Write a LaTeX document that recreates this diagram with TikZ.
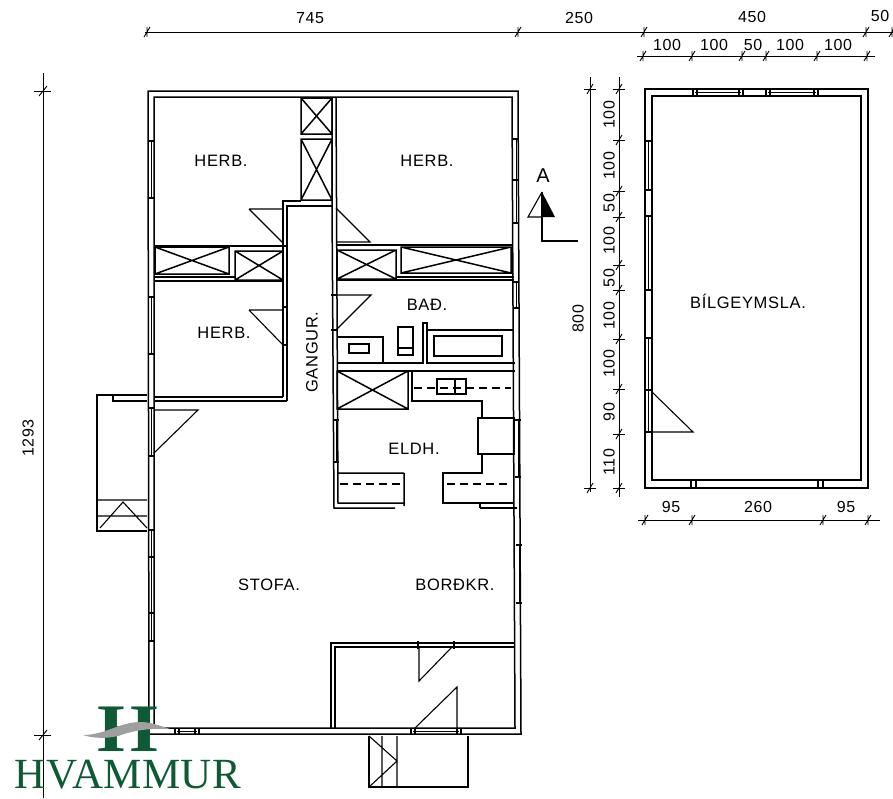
\documentclass[tikz,border=0pt]{standalone}
\usepackage{fontspec}
\setmainfont[LetterSpace=4]{Liberation Sans}
\newfontfamily\logofont[LetterSpace=1]{Liberation Serif}
\definecolor{hvgreen}{HTML}{0F5A35}
\tikzset{
    wall/.style={line width=1.5pt},
    fine/.style={line width=1.1pt},
    dimline/.style={line width=0.9pt},
    roomlabel/.style={font=\fontsize{16.5}{16.5}\selectfont, inner sep=0pt},
    dimlabel/.style={font=\fontsize{16}{16}\selectfont, inner sep=0pt},
    counter/.style={line width=1.2pt, dash pattern=on 8pt off 5pt},
}
\begin{document}
\begin{tikzpicture}[x=1pt,y=-1pt]
    \useasboundingbox (0,0) rectangle (893,798);
    % main house
    \draw[wall] (148,91) -- (518,91) -- (521,734) -- (149,734) -- cycle;
    \draw[wall] (154,97) -- (512,97) -- (515,728) -- (154,728) -- cycle;
    % corridor
    \draw[wall] (283,397) -- (283,201) -- (301,201);
    \draw[wall] (287,401) -- (287,206) -- (332,206);
    \draw[wall] (332,97) -- (332,206) (332,206) -- (334,508) -- (395,508);
    \draw[wall] (336,97) -- (338,503) -- (404,503) (404,473) -- (404,506) (338,473) -- (404,473);
    % walls round the closets
    \draw[wall] (154,246) -- (287,246) (154,277) -- (235,277) (154,281) -- (283,281);
    \draw[wall] (336,245) -- (513,245) (396,277) -- (514,277) (336,280) -- (514,280);
    \draw[wall] (154,397) -- (283,397) (154,401) -- (287,401);
    \foreach \xa/\ya/\xb/\yb in {301/98/332/134, 301/139/332/200, 155/247/229/274, 235/251/283/280, 337/250/396/279, 401/247/511/273, 337/371/408/409}
        \draw[wall] (\xa,\ya) rectangle (\xb,\yb) (\xa,\ya) -- (\xb,\yb) (\xa,\yb) -- (\xb,\ya);
    % bathroom
    \draw[wall] (337,363) -- (423,363) -- (423,323) -- (427,323) -- (427,363) -- (515,363);
    \draw[fine] (427,330) -- (513,330);
    \draw[fine] (434,336) rectangle (502,356);
    \draw[fine] (337,337) -- (383,337) -- (383,363);
    \draw[fine] (349,344) rectangle (369,353);
    \draw[fine] (398,327) rectangle (413,355) (398,348) -- (413,348);
    % kitchen
    \draw[wall] (338,371) -- (515,371) (412,371) -- (412,401) -- (482,401) -- (482,418);
    \draw[fine] (478,418) rectangle (514,454);
    \draw[wall] (482,454) -- (482,473) -- (443,473) -- (443,503) -- (514,503);
    \draw[wall] (480,508) -- (517,508) (480,504) -- (480,508);
    \draw[fine] (437,379) rectangle (466,394) (455,379) -- (455,394);
    \draw[counter] (414,388) -- (511,388) (340,484) -- (402,484) (447,484) -- (511,484);
    % entrance room
    \draw[wall] (331,728) -- (331,643) -- (515,643) (335,728) -- (335,647) -- (515,647);
    % doors
    \draw[fine] (249,209) -- (283,209) (249,209) -- (283,243);
    \draw[fine] (336,208) -- (370,242) -- (336,242);
    \draw[fine] (336,295) -- (371,295) -- (336,330);
    \draw[fine] (249,310) -- (283,310) (249,310) -- (283,345);
    \draw[fine] (154,410) -- (198,410) -- (154,453);
    \draw[fine] (419,647) -- (419,681) -- (452,647);
    \draw[fine] (457,730) -- (457,687) -- (415,728);
    \draw[fine] (652,392) -- (693,432) -- (652,432);
    % left annex and steps
    \draw[wall] (147,395) -- (97,395) -- (97,531) -- (147,531);
    \draw[wall] (113,395) -- (113,401) -- (147,401);
    \draw[fine] (97,500) -- (147,500) (97,516) -- (147,516) (100,528) -- (123,502) -- (147,528);
    \draw[wall] (369,736) -- (369,787) -- (468,787) -- (468,736);
    \draw[fine] (382,736) -- (382,787) (397,736) -- (397,787) (369,736) -- (397,761) -- (369,787);
    % garage
    \draw[wall] (645,89) -- (868,89) -- (868,488) -- (645,488) -- cycle;
    \draw[wall] (652,96) -- (861,96) -- (861,480) -- (652,480) -- cycle;
    % windows on side walls
    \foreach \xw/\ya/\yb in {151/141/198, 151/297/354, 151/408/456, 151/530/557, 151/557/613, 151/613/641, 516/139/180, 516/180/223, 516/282/308, 518/420/477, 519/545/603, 336/420/462, 648/141/190, 648/216/290, 648/338/390, 648/390/432}{
        \draw[line width=0.7pt] (\xw,\ya) -- (\xw,\yb);
        \draw[wall] (\xw-3,\ya) -- (\xw+3,\ya) (\xw-3,\yb) -- (\xw+3,\yb);
    }
    % windows on top and bottom walls
    \foreach \yw/\xa/\xb in {92/695/741, 92/768/816, 731/177/197, 731/413/459}{
        \draw[line width=0.7pt] (\xa,\yw) -- (\xb,\yw);
        \draw[wall] (\xa-2,\yw-3) -- (\xa-2,\yw+3) (\xa+2,\yw-3) -- (\xa+2,\yw+3) (\xb-2,\yw-3) -- (\xb-2,\yw+3) (\xb+2,\yw-3) -- (\xb+2,\yw+3);
    }
    % door jambs and garage slots
    \foreach \xw/\yw in {285/307, 285/345, 334/295, 334/330}
        \draw[wall] (\xw-3,\yw) -- (\xw+3,\yw);
    \foreach \xw/\yw in {418/645, 454/645, 691/484, 696/484, 818/484, 823/484}
        \draw[wall] (\xw,\yw-4) -- (\xw,\yw+4);
    % dimensions
    \draw[dimline] (145,32) -- (893,32);
    \draw[dimline] (637,56) -- (875,56);
    \draw[dimline] (638,520) -- (880,520);
    \draw[dimline] (590,77) -- (590,492);
    \draw[dimline] (619,77) -- (619,497);
    \draw[dimline] (43,73) -- (43,798);
    \foreach \x/\y in {147/32, 518/32, 644/32, 866/32, 892/32, 643/56, 692/56, 742/56, 766/56, 817/56, 867/56, 645/520, 692/520, 823/520, 868/520}
        \draw[dimline] (\x-3,\y+5) -- (\x+3,\y-5) (\x,\y-5) -- (\x,\y+5);
    \foreach \x/\y in {590/89, 590/488, 619/89, 619/140, 619/191, 619/217, 619/265, 619/290, 619/339, 619/389, 619/434, 619/488}{
        \draw[dimline] (\x-6,\y) -- (\x+6,\y);
        \draw[dimline] (\x-3,\y+5) -- (\x+3,\y-5);
    }
    \foreach \y in {91, 735}{
        \draw[dimline] (34,\y) -- (51,\y);
        \draw[dimline] (39,\y+5) -- (47,\y-5);
    }
    \node[dimlabel] (dimhouse) at (310,18) {745};
    \node[dimlabel] (dimgap) at (579,18) {250};
    \node[dimlabel] (dimgarage) at (752,17) {450};
    \node[dimlabel] (dimeave) at (880,16) {50};
    \node[dimlabel] (dimtopa) at (667,45) {100};
    \node[dimlabel] (dimtopb) at (714,45) {100};
    \node[dimlabel] (dimtopc) at (753,45) {50};
    \node[dimlabel] (dimtopd) at (790,45) {100};
    \node[dimlabel] (dimtope) at (838,45) {100};
    \node[dimlabel] (dimbota) at (671,507) {95};
    \node[dimlabel] (dimbotb) at (758,507) {260};
    \node[dimlabel] (dimbotc) at (846,507) {95};
    \node[dimlabel,rotate=90] (dimheight) at (28,438) {1293};
    \node[dimlabel,rotate=90] (dimdepth) at (578,319) {800};
    \foreach \y/\t [count=\i] in {115/100, 166/100, 203/50, 241/100, 278/50, 316/100, 364/100, 412/90, 462/110}
        \node[dimlabel,rotate=90] (dimside\i) at (609,\y) {\t};
    % rooms
    \node[roomlabel] (herbwest) at (221,161) {HERB.};
    \node[roomlabel] (herbeast) at (427,161) {HERB.};
    \node[roomlabel] (herbmid) at (224,333) {HERB.};
    \node[roomlabel] (bath) at (427,305) {BAÐ.};
    \node[roomlabel,rotate=90] (hall) at (312,352) {GANGUR.};
    \node[roomlabel] (kitchen) at (414,449) {ELDH.};
    \node[roomlabel] (living) at (269,585) {STOFA.};
    \node[roomlabel] (dining) at (455,585) {BORÐKR.};
    \node[roomlabel] (garage) at (748,301) {BÍLGEYMSLA.};
    % section mark
    \node[roomlabel,font=\fontsize{20}{20}\selectfont] (section) at (543,176) {A};
    \draw[fine] (542,192) -- (528,217) -- (542,217);
    \fill (542,192) -- (555,217) -- (542,217) -- cycle;
    \draw[fine] (542,192) -- (542,241) -- (578,241);
    % logo
    \node[text=hvgreen, inner sep=0pt, xscale=1.15, font=\logofont\bfseries\fontsize{68}{68}\selectfont] (logomark) at (128,729) {H};
    \fill[gray!75] (83,735) .. controls (105,735) and (120,722) .. (140,722) .. controls (152,722) and (160,726) .. (170,729) .. controls (150,728) and (135,730) .. (118,736) .. controls (105,739) and (92,738) .. (83,735) -- cycle;
    \node[text=hvgreen, inner sep=0pt, font=\logofont\fontsize{43}{43}\selectfont] (logotext) at (128,775) {HVAMMUR};
\end{tikzpicture}
\end{document}
